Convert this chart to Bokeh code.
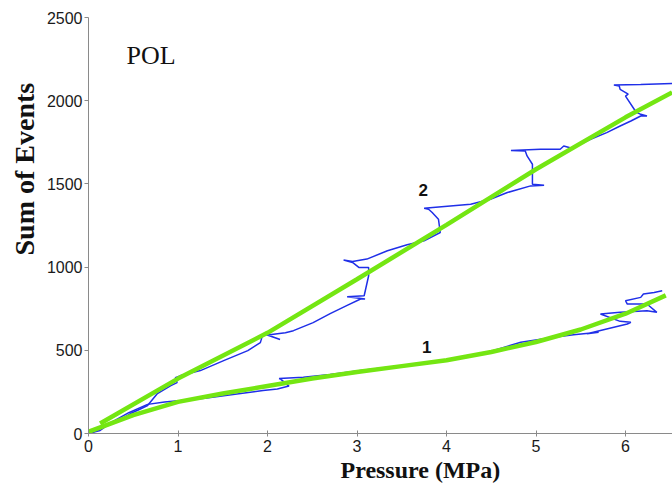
from bokeh.plotting import figure
from bokeh.models import Label, FixedTicker, Range1d, Title
from bokeh.embed import file_html
from bokeh.resources import INLINE

# ---- data ----
x_ticks = [0, 1, 2, 3, 4, 5, 6]
y_ticks = [0, 500, 1000, 1500, 2000, 2500]

# curve 2 (upper) - measured cumulative events
x_ev2 = [0, 0.05, 0.13, 0.2, 0.28, 0.35, 0.47, 0.55, 0.66, 0.77, 0.92, 0.99, 0.97, 1.03,
         1.25, 1.51, 1.78, 1.92, 1.95, 2.14, 2.0, 2.2, 2.29, 2.51, 2.70, 2.89, 3.04, 3.09,
         2.89, 3.08, 3.13, 3.13, 3.02, 2.95, 2.85, 2.95, 3.11, 3.34, 3.56, 3.75, 3.93, 3.91,
         3.84, 3.80, 3.75, 4.27, 4.49, 4.68, 4.94, 5.09, 4.96, 4.96, 4.90, 4.88, 4.72, 5.05,
         5.27, 5.31, 5.40, 5.61, 5.79, 5.94, 6.06, 6.17, 6.24, 6.17, 6.13, 6.11, 6.0, 6.03,
         5.94, 5.93, 5.87, 6.17, 6.52]
y_ev2 = [0, 8, 18, 45, 66, 82, 120, 140, 168, 240, 288, 306, 335, 348,
         378, 438, 498, 546, 600, 565, 592, 605, 618, 666, 720, 770, 808, 808,
         822, 828, 948, 998, 998, 1028, 1042, 1034, 1048, 1098, 1134, 1158, 1208, 1288,
         1328, 1348, 1354, 1378, 1408, 1448, 1488, 1492, 1498, 1618, 1668, 1698, 1700, 1708,
         1708, 1728, 1714, 1768, 1808, 1848, 1878, 1908, 1908, 1918, 1928, 1938, 2028, 2040,
         2068, 2088, 2094, 2098, 2104]

# curve 1 (lower) - measured cumulative events
x_ev1 = [0, 0.08, 0.18, 0.3, 0.45, 0.66, 0.85, 1.03, 1.3, 1.7, 1.95, 2.11, 2.24, 2.15,
         2.13, 2.4, 2.7, 3.04, 3.3, 3.6, 3.9, 4.2, 4.5, 4.83, 5.2, 5.42, 5.70, 5.57,
         6.02, 6.06, 5.94, 5.72, 5.94, 6.24, 6.35, 6.24, 6.02, 6.0, 6.17, 6.20, 6.32, 6.41]
y_ev1 = [0, 15, 45, 80, 125, 175, 190, 198, 212, 240, 258, 268, 285, 325,
         330, 338, 355, 378, 395, 412, 432, 455, 495, 548, 578, 594, 608, 600,
         658, 668, 674, 718, 728, 738, 728, 778, 778, 798, 818, 838, 848, 858]

# fitted curves (green)
x_fit2 = [0.13, 1, 2, 3, 4, 5, 6, 6.52]
y_fit2 = [60, 330, 605, 927, 1254, 1588, 1900, 2050]
x_fit1 = [0, 0.5, 1, 1.5, 2, 2.5, 3, 3.5, 4, 4.5, 5, 5.5, 6, 6.45]
y_fit1 = [10, 110, 190, 240, 285, 330, 370, 405, 440, 490, 550, 625, 720, 830]

title_text = "POL"
x_label = "Pressure (MPa)"
y_label = "Sum of Events"

p = figure(width=672, height=491, output_backend="svg", toolbar_location=None,
           x_range=Range1d(0, 6.525), y_range=Range1d(0, 2500),
           min_border_left=88, min_border_right=0, min_border_top=17,
           min_border_bottom=58)
p.outline_line_color = None
p.grid.visible = False
p.background_fill_color = "white"
p.border_fill_color = "white"

for ax in (p.xaxis[0], p.yaxis[0]):
    ax.axis_line_color = "#8a8a8a"
    ax.major_tick_line_color = "#8a8a8a"
    ax.minor_tick_line_color = None
    ax.major_label_text_font = "Liberation Sans"
    ax.major_label_text_font_size = "16px"
    ax.major_label_text_color = "#1a1a1a"

p.xaxis.ticker = FixedTicker(ticks=x_ticks)
p.yaxis.ticker = FixedTicker(ticks=y_ticks)
p.xaxis.major_tick_in = 3
p.xaxis.major_tick_out = 3
p.xaxis.major_label_standoff = 3
p.yaxis.major_tick_in = 0
p.yaxis.major_tick_out = 4
p.yaxis.major_label_standoff = 2

p.line(x_ev2, y_ev2, line_color="#1f2fe8", line_width=1.5)
p.line(x_ev1, y_ev1, line_color="#1f2fe8", line_width=1.5)
p.line(x_fit2, y_fit2, line_color="#74e612", line_width=4.5)
p.line(x_fit1, y_fit1, line_color="#74e612", line_width=4.5)

p.add_layout(Label(x=0.70, y=2272, text=title_text, text_font="Liberation Serif",
                   text_font_size="26px", text_align="center", text_baseline="middle",
                   text_color="#111111"))
p.add_layout(Label(x=3.74, y=1463, text="2", text_font="Liberation Sans",
                   text_font_style="bold", text_font_size="17px", text_align="center",
                   text_baseline="middle", text_color="#111111"))
p.add_layout(Label(x=3.78, y=517, text="1", text_font="Liberation Sans",
                   text_font_style="bold", text_font_size="17px", text_align="center",
                   text_baseline="middle", text_color="#111111"))

p.add_layout(Title(text=x_label, align="left", offset=252, standoff=0,
                   text_font="Liberation Serif", text_font_style="bold",
                   text_font_size="24px", text_color="#111111"), "below")
p.add_layout(Title(text=y_label, align="left", offset=178, standoff=7,
                   text_font="Liberation Serif", text_font_style="bold",
                   text_font_size="28px", text_color="#111111"), "left")

open("out.html", "w").write(file_html(p, INLINE))
